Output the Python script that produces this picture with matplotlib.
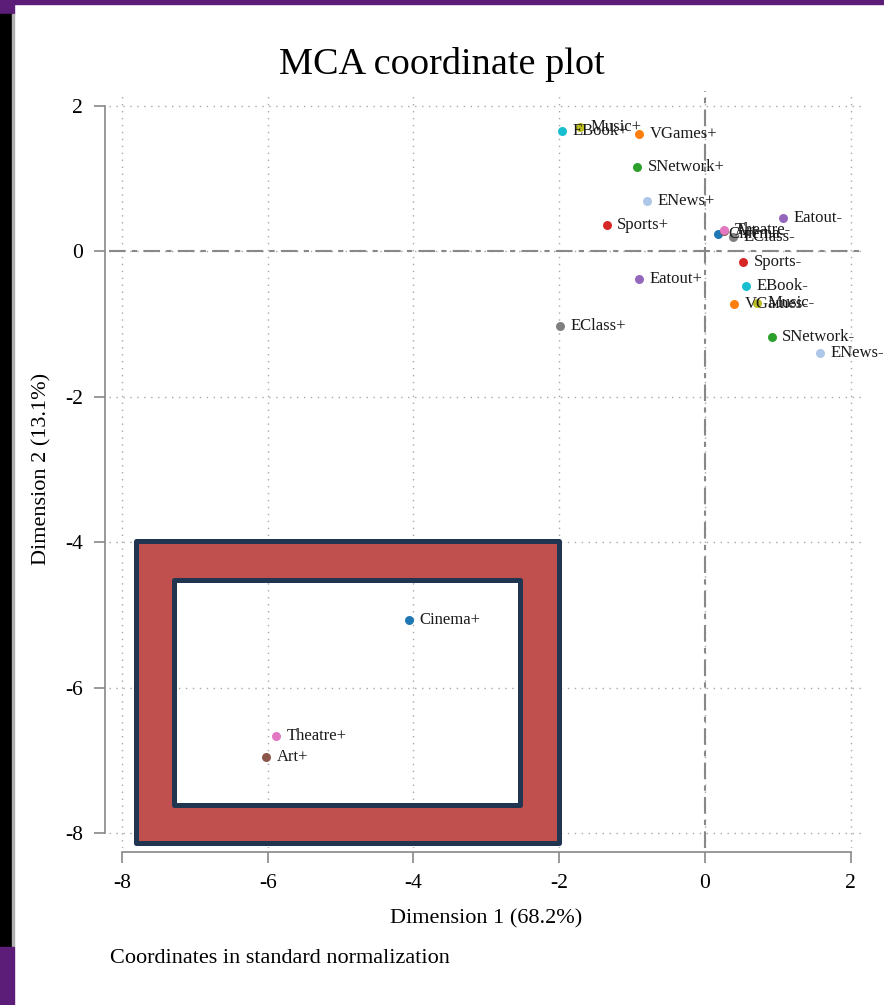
import matplotlib.pyplot as plt
from matplotlib.patches import Rectangle, PathPatch
from matplotlib.path import Path

# -------------------------------- Data --------------------------------
VARIABLES = ["Cinema", "VGames", "SNetwork", "Sports", "Eatout", "Art",
             "Theatre", "EClass", "Music", "EBook", "ENews"]
COLORS = ["#1f77b4", "#ff7f0e", "#2ca02c", "#d62728", "#9467bd", "#8c564b",
          "#e377c2", "#7f7f7f", "#bcbd22", "#17becf", "#aec7e8"]

# coordinates of the "+" and "-" categories (dimension 1, dimension 2)
DIM1_PLUS = [-4.06, -0.905, -0.93, -1.35, -0.90, -6.02, -5.885, -1.99, -1.715, -1.96, -0.80]
DIM2_PLUS = [-5.07, 1.61, 1.155, 0.357, -0.39, -6.955, -6.667, -1.03, 1.71, 1.65, 0.69]
DIM1_MINUS = [0.18, 0.398, 0.914, 0.526, 1.066, 0.26, 0.26, 0.39, 0.709, 0.562, 1.578]
DIM2_MINUS = [0.23, -0.73, -1.178, -0.155, 0.45, 0.27, 0.29, 0.19, -0.72, -0.477, -1.406]

X_TICKS = [-8, -6, -4, -2, 0, 2]
Y_TICKS = [-8, -6, -4, -2, 0, 2]

TITLE = "MCA coordinate plot"
XLABEL = "Dimension 1 (68.2%)"
YLABEL = "Dimension 2 (13.1%)"
NOTE = "Coordinates in standard normalization"

# highlight frame drawn over the lower-left corner (x0, y0, x1, y1 in data units)
FRAME_OUTER = (-7.81, -8.14, -2.0, -3.99)
FRAME_INNER = (-7.28, -7.615, -2.54, -4.52)
# ----------------------------------------------------------------------

SERIF = ["Liberation Serif", "DejaVu Serif"]
plt.rcParams["font.family"] = SERIF

fig = plt.figure(figsize=(8.84, 10.05), dpi=100)
ax = fig.add_axes([0.1238, 0.1566, 0.8519, 0.7528])

# grid
for t in X_TICKS:
    ax.axvline(t, color="#a8a8a8", lw=1.0, ls=(0, (1, 4)), zorder=1)
for t in Y_TICKS:
    ax.axhline(t, color="#a8a8a8", lw=1.0, ls=(0, (1, 4)), zorder=1)

# reference lines through the origin
ax.axhline(0, color="#888888", lw=1.5, ls=(0, (8, 3, 2.5, 3)), zorder=2)
ax.axvline(0, color="#888888", lw=1.5, ls=(0, (8, 3, 2.5, 3)), zorder=2)

# highlight frame (ring with a transparent hole)
def rect_verts(r, reverse=False):
    x0, y0, x1, y1 = r
    v = [(x0, y0), (x1, y0), (x1, y1), (x0, y1)]
    if reverse:
        v = v[::-1]
    return v + [(x0, y0)]

verts = rect_verts(FRAME_OUTER) + rect_verts(FRAME_INNER, reverse=True)
codes = ([Path.MOVETO] + [Path.LINETO] * 3 + [Path.CLOSEPOLY]) * 2
ring = PathPatch(Path(verts, codes), facecolor="#c0504d", edgecolor="#1f3550",
                 lw=3.6, joinstyle="round", zorder=3)
ax.add_patch(ring)

# points and labels
for name, c, x1, y1, x2, y2 in zip(VARIABLES, COLORS, DIM1_PLUS, DIM2_PLUS,
                                   DIM1_MINUS, DIM2_MINUS):
    ax.scatter([x1, x2], [y1, y2], s=42, color=c, zorder=4, linewidths=0)
    for x, y, sign in [(x1, y1, "+"), (x2, y2, "-")]:
        ax.annotate(name + sign, (x, y), xytext=(7.5, 0), textcoords="offset points",
                    ha="left", va="center", fontsize=12, color="#1a1a1a", zorder=5)

ax.set_xlim(-8.17, 2.16)
ax.set_ylim(-8.2, 2.2)
ax.set_xticks(X_TICKS)
ax.set_yticks(Y_TICKS)
ax.set_xticklabels([str(t) for t in X_TICKS])
ax.set_yticklabels([str(t) for t in Y_TICKS])
ax.tick_params(direction="out", length=8, width=1.2, color="#888888",
               labelsize=15.5, pad=8)

for s in ["top", "right"]:
    ax.spines[s].set_visible(False)
for s in ["left", "bottom"]:
    ax.spines[s].set_color("#888888")
    ax.spines[s].set_linewidth(1.2)
    ax.spines[s].set_position(("outward", 3))
ax.spines["left"].set_bounds(Y_TICKS[0], Y_TICKS[-1])
ax.spines["bottom"].set_bounds(X_TICKS[0], X_TICKS[-1])

ax.set_xlabel(XLABEL, fontsize=16, labelpad=12)
ax.set_ylabel(YLABEL, fontsize=16, labelpad=10)

fig.text(0.5, 1 - 64 / 1005, TITLE, ha="center", va="center", fontsize=27.5)
fig.text(110 / 884, 1 - 958 / 1005, NOTE, ha="left", va="center", fontsize=16)

# screenshot window chrome around the chart
W, H = 884, 1005
def px_rect(x, y, w, h, color):
    fig.patches.append(Rectangle((x / W, 1 - (y + h) / H), w / W, h / H,
                                 transform=fig.transFigure, color=color, zorder=0))

px_rect(0, 0, W, 4, "#5c1d78")
px_rect(0, 0, 14, 14, "#5c1d78")
px_rect(0, 14, 12, 933, "#000000")
px_rect(12, 14, 2, 933, "#b0b0b0")
px_rect(0, 947, 14, 58, "#5c1d78")

fig.savefig("out.png", dpi=100)
